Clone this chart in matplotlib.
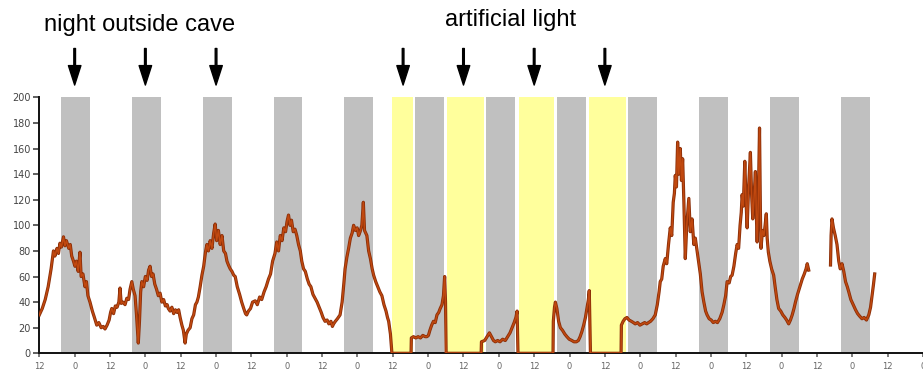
#Activity trace with night bands and artificial light periods
import numpy as np
import matplotlib.pyplot as plt
from matplotlib.transforms import blended_transform_factory

#hours counted from the first noon, activity values
hours = [0, 1, 2, 3, 4, 4.8, 5.3, 6, 6.5, 7, 7.5, 8.2, 8.7, 9.2, 10, 10.5, 11, 11.6, 12.1, 12.6,
         13.2, 13.8, 14.2, 14.8, 15.5, 16, 16.5, 17.2, 18, 18.7, 19.5, 20.2, 21, 21.7, 22.3, 23,
         23.7, 24.2, 24.6, 25.2, 25.8, 26.4, 27, 27.4, 27.8, 28.4, 29.1, 29.7, 30.3, 30.8, 31.4,
         31.9, 32.5, 33, 33.6, 34, 34.4, 34.8, 35.4, 36, 36.6, 37.1, 37.6, 38.1, 38.6, 39.2, 39.8,
         40.4, 41, 41.6, 42.2, 42.8, 43.4, 43.8, 44.4, 45, 45.6, 46.2, 46.7, 47.3, 47.8, 48.4,
         48.9, 49.5, 49.9, 50.5, 51.2, 51.8, 52.4, 53, 53.5, 54, 54.6, 55.2, 55.8, 56.4, 56.9,
         57.4, 58, 58.6, 59.2, 59.7, 60.2, 60.8, 61.4, 62, 62.6, 63.2, 63.7, 64.2, 64.8, 65.4,
         66, 66.5, 67.2, 68, 68.7, 69.4, 70, 70.4, 71, 71.7, 72.4, 73.3,
         74, 74.8, 75.5, 76.3, 77, 77.8, 78.5, 79.2, 80, 80.6, 81.2, 81.8, 82.4, 83, 83.6, 84.1,
         84.6, 85.1, 85.6, 86.2, 86.8, 87.4, 88, 88.6, 89.1, 89.7, 90.3, 91, 91.6, 92.2, 92.9,
         93.6, 94.3, 95, 95.7, 96.3, 97, 97.7, 98.3, 99, 99.5, 99.9, 100.5, 101.2, 102.1, 102.8,
         103.4, 103.8, 104.4, 105, 105.6, 106.2, 106.7, 107.3, 107.9, 108.4, 108.9, 109.5, 110,
         110.4, 111.2, 111.8, 112.4, 113, 113.5, 114.2, 114.9, 115.6, 116.3, 117, 117.7, 118.2,
         118.6, 119.2, 119.7,
         126.2, 126.3, 127, 127.8, 128.6, 129.4, 130.2, 131, 131.6, 132.1, 132.6, 133.2, 133.8,
         134.4, 135, 135.6, 136.1, 136.7, 137.2, 137.6, 137.9, 138.1,
         150, 150.1, 151.2, 152, 152.8, 153.5, 154.2, 154.8, 155.6, 156.4, 157.3, 158.2, 159,
         159.8, 160.5, 161.2, 161.8, 162.2, 162.5,
         174.4, 174.5, 174.9, 175.2, 175.7, 176.3, 176.9, 177.6, 178.4, 179.1, 179.9, 180.8,
         181.5, 182.3, 183, 183.6, 184.2, 184.8, 185.4, 185.9, 186.4, 186.7, 187.1,
         197.5, 197.6, 198.2, 198.8, 199.5, 200.2, 201, 201.7, 202.3, 203.1, 203.9, 204.7, 205.5,
         206.2, 206.8, 207.5, 208.3, 209.1, 209.8, 210.4, 210.8, 211.3, 211.8, 212.5, 213, 213.6,
         214.2, 214.7, 215.2, 215.6, 215.9, 216.3, 216.7, 217.1, 217.6, 218, 218.4, 218.8, 219.3,
         219.8, 220.5, 221, 221.6, 222.2, 222.7, 223.3, 223.8, 224.4, 225, 225.6, 226.2, 226.7,
         227.4, 228.1, 228.8, 229.5, 230.2, 231, 231.8, 232.4, 233, 233.5, 234.2, 234.7, 235.2,
         235.8, 236.4, 236.9, 237.4, 237.9, 238.3, 238.6, 239, 239.5, 239.9, 240.3, 240.8, 241.4,
         241.8, 242.2, 242.6, 243.1, 243.4, 243.7, 244.1, 244.5, 244.8, 245, 245.5, 246, 246.4,
         246.8, 247.1, 247.5, 248, 248.6, 249.3, 249.8, 250.4, 251, 251.7, 252.4, 253.1, 253.7,
         254.4, 255, 255.6, 256.2, 256.7, 257.4, 258.2, 259, 259.7, 260.3, 260.7, 261.2,
         265,
         268.6, 268.8, 269.1, 269.6, 270.2, 270.8, 271.4, 271.9, 272.5, 273.1, 273.7, 274.3,
         274.8, 275.5, 276.3, 277.1, 277.8, 278.5, 279.3, 280, 280.8, 281.6, 282.2, 282.7,
         283.2, 283.6]
values = [30, 35, 42, 52, 66, 80, 76, 82, 78, 86, 83, 91, 84, 88, 82, 85, 76, 72, 68, 72,
          64, 79, 60, 62, 52, 56, 45, 40, 33, 28, 22, 24, 20, 21, 19, 22,
          26, 32, 35, 31, 37, 36, 40, 51, 39, 40, 38, 43, 42, 50, 56,
          50, 45, 30, 8, 25, 48, 56, 52, 60, 57, 65, 68, 60, 62, 54, 50,
          45, 47, 40, 42, 37, 38, 35, 33, 36, 31, 34, 32, 34, 28, 22,
          18, 8, 15, 18, 20, 27, 30, 38, 40, 44, 52, 61, 68, 79, 85,
          80, 88, 82, 94, 101, 88, 96, 85, 92, 80, 78, 72, 69, 66, 64,
          61, 60, 52, 46, 40, 35, 31, 30, 33, 35, 40, 41,
          38, 44, 42, 48, 52, 58, 62, 72, 78, 87, 80, 92, 88, 98, 95, 103,
          108, 100, 104, 95, 97, 92, 85, 80, 72, 66, 64, 58, 54, 52, 46,
          43, 40, 36, 32, 28, 25, 26, 23, 25, 21, 23, 25, 27, 30, 40,
          55, 66, 75, 82, 90, 94, 100, 96, 98, 92, 95, 100, 118,
          96, 92, 80, 74, 66, 61, 56, 52, 48, 45, 38, 33, 28,
          25, 15, 0,
          0, 12, 13, 12, 13, 12, 14, 13, 13, 14, 18, 22, 25,
          24, 30, 32, 35, 38, 45, 60, 40, 0,
          0, 9, 10, 13, 16, 13, 10, 9, 10, 9, 11, 10, 13,
          16, 20, 24, 28, 33, 0,
          0, 25, 36, 40, 35, 25, 20, 18, 15, 13, 11, 10,
          9, 9, 10, 13, 17, 22, 28, 35, 42, 49, 0,
          0, 22, 25, 27, 28, 26, 25, 24, 23, 24, 22, 23, 24,
          23, 24, 25, 27, 30, 38, 48, 56, 58, 68, 74, 70, 85,
          98, 92, 118, 125, 139, 130, 165, 140, 160, 135, 152, 120, 74,
          100, 121, 95, 105, 85, 90, 80, 72, 62, 48, 40, 33, 30,
          27, 26, 24, 25, 24, 27, 32, 38, 45, 56, 55, 60, 61,
          68, 78, 85, 82, 100, 110, 124, 115, 150, 120, 98, 130, 157,
          125, 105, 120, 142, 110, 87, 120, 176, 110, 82, 96, 92, 100,
          109, 90, 79, 72, 66, 61, 52, 42, 35, 33, 30, 28, 26,
          23, 26, 30, 35, 40, 46, 52, 58, 62, 66, 70, 65,
          np.nan,
          69, 92, 105, 98, 92, 85, 72, 66, 70, 64, 56, 52,
          48, 42, 38, 34, 31, 29, 27, 28, 26, 30, 36, 45,
          54, 62]

#night periods (grey) and artificial light periods (yellow)
night_start = [7.5, 31.6, 55.6, 79.6, 103.6, 127.6, 151.6, 175.7, 199.8, 224.0, 248.1, 272.2]
night_end = [17.2, 41.3, 65.3, 89.3, 113.3, 137.3, 161.4, 185.5, 209.6, 233.8, 257.9, 281.9]
light_start = [119.9, 138.4, 162.7, 186.5]
light_end = [126.7, 151.1, 174.6, 199.3]

#arrow positions
night_arrows = [12, 36, 60]
light_arrows = [123.5, 144, 168, 192]

#tick labels
x_ticks = list(range(0, 301, 12))
x_labels = ["12" if i % 2 == 0 else "0" for i in range(len(x_ticks))]
y_ticks = list(range(0, 201, 20))

fig = plt.figure(figsize=(9.23, 3.73), dpi=100)
ax = fig.add_axes([0.0426, 0.0528, 0.9574, 0.6863])

for s, e in zip(night_start, night_end):
    ax.axvspan(s, e, color='#c0c0c0', lw=0, zorder=1)
for s, e in zip(light_start, light_end):
    ax.axvspan(s, e, color='#ffff9c', lw=0, zorder=1)

ax.plot(hours, values, color='#8a2e08', lw=2.3, zorder=3)
ax.plot(hours, values, color='#c0480f', lw=1.1, zorder=4)

ax.set_xlim(0, 300)
ax.set_ylim(0, 200)
ax.set_xticks(x_ticks)
ax.set_xticklabels(x_labels)
ax.set_yticks(y_ticks)
ax.tick_params(axis='x', labelsize=6, colors='#666666', length=3, width=1.2, pad=3)
ax.tick_params(axis='y', labelsize=7, colors='#444444', length=4, width=1.2, pad=2)
for t in ax.get_xticklines() + ax.get_yticklines():
    t.set_color('#222222')
for side in ['top', 'right']:
    ax.spines[side].set_visible(False)
for side in ['left', 'bottom']:
    ax.spines[side].set_linewidth(1.4)
    ax.spines[side].set_color('#111111')

#arrows and labels above the axes
for h in night_arrows + light_arrows:
    ax.annotate('', xy=(h, 0.772), xycoords=('data', 'figure fraction'),
                xytext=(h, 0.870), textcoords=('data', 'figure fraction'),
                arrowprops=dict(facecolor='black', edgecolor='black', width=1.2,
                                headwidth=9, headlength=14, shrink=0),
                annotation_clip=False)

top_trans = blended_transform_factory(ax.transData, fig.transFigure)
ax.text(34.2, 0.933, 'night outside cave', transform=top_trans,
        ha='center', va='center', fontsize=17, family='Liberation Sans')
ax.text(159.9, 0.946, 'artificial light', transform=top_trans,
        ha='center', va='center', fontsize=17, family='Liberation Sans')

plt.savefig('out.png', dpi=100)
